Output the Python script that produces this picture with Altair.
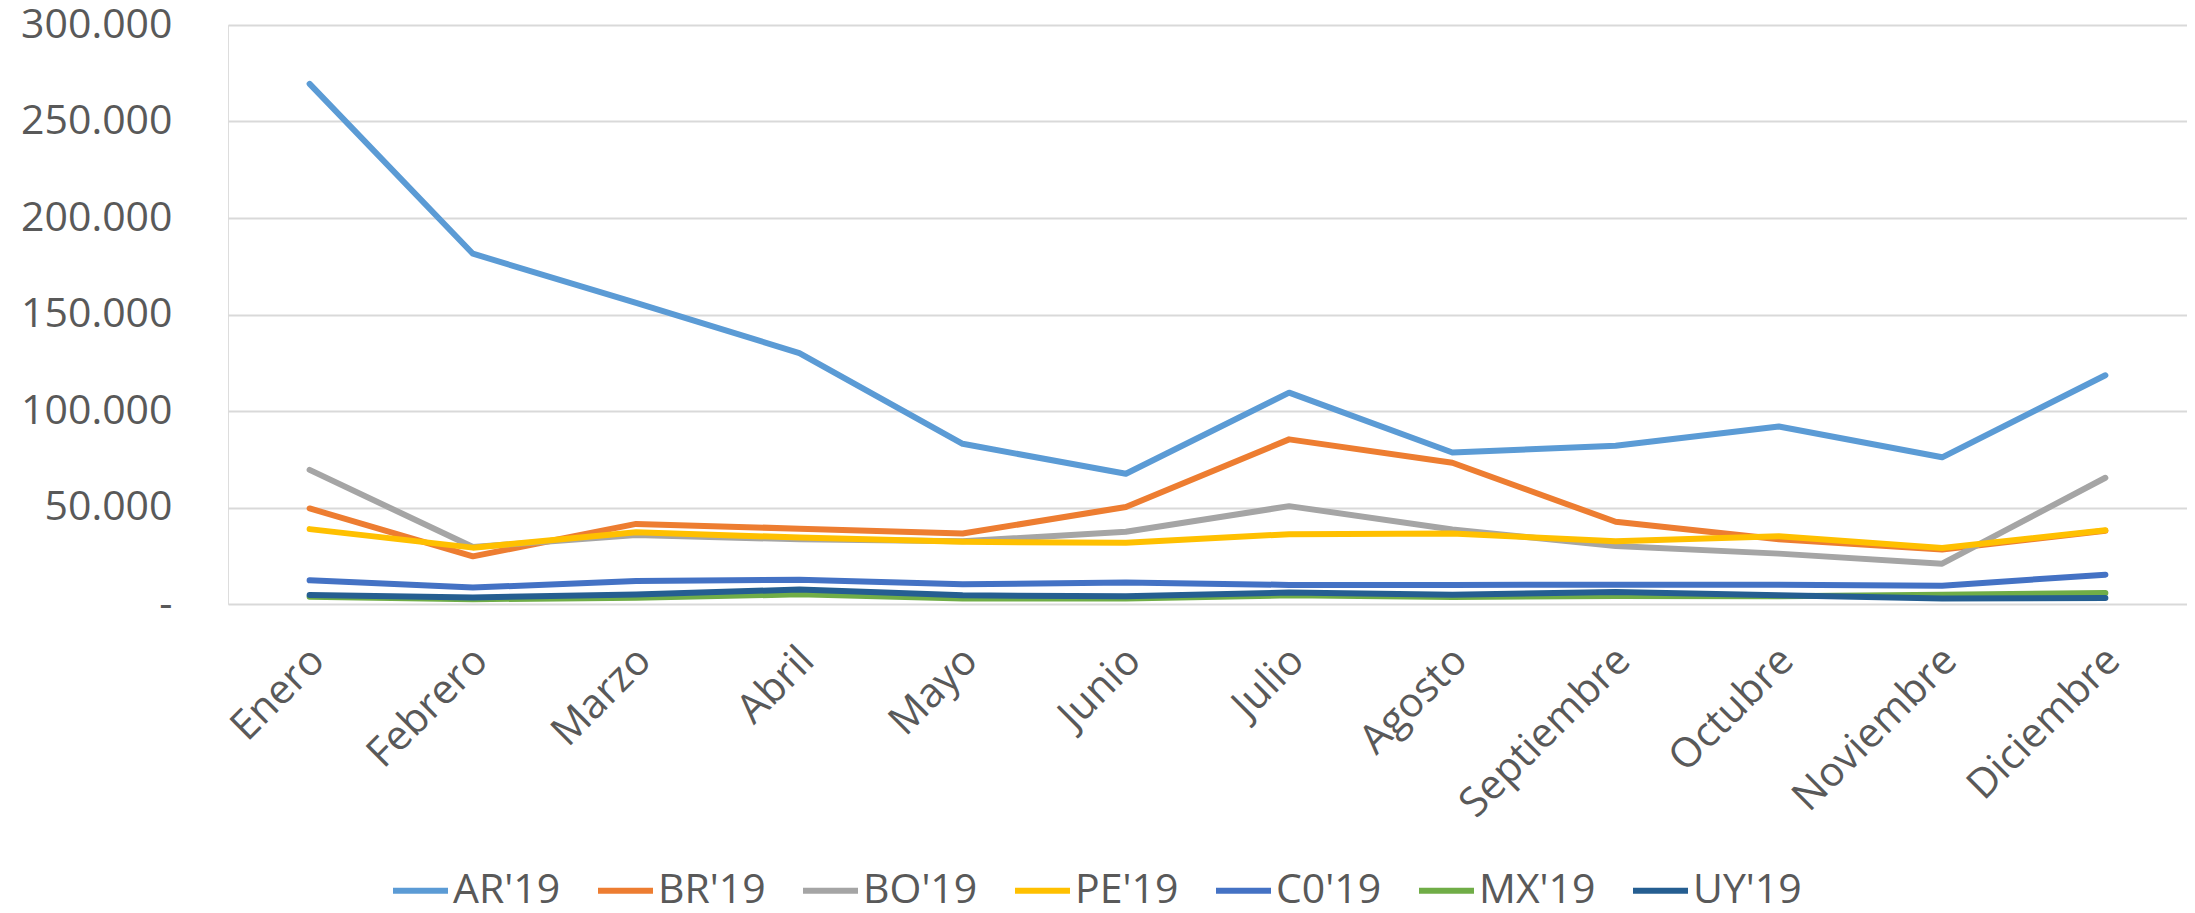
import altair as alt
import pandas as pd

months = ["Enero", "Febrero", "Marzo", "Abril", "Mayo", "Junio", "Julio",
          "Agosto", "Septiembre", "Octubre", "Noviembre", "Diciembre"]
series_names = ["AR'19", "BR'19", "BO'19", "PE'19", "C0'19", "MX'19", "UY'19"]
series_colors = ["#5B9BD5", "#ED7D31", "#A5A5A5", "#FFC000", "#4472C4", "#70AD47", "#255E91"]

AR = [269500, 181500, 156000, 130000, 83000, 67500, 109500, 78500, 82000, 92000, 76000, 118500]
BR = [49500, 24700, 41500, 39000, 36500, 50300, 85300, 73200, 42600, 33500, 28200, 37900]
BO = [69500, 29500, 35800, 33500, 32500, 37400, 50700, 38600, 30100, 26100, 20900, 65400]
PE = [38800, 29200, 37200, 34400, 32200, 31700, 36200, 36500, 32500, 35100, 29000, 38200]
CO = [12300, 8500, 11900, 12600, 10200, 11100, 9900, 9900, 10000, 10000, 9500, 15200]
MX = [3800, 2500, 3200, 5000, 2800, 2800, 4500, 3600, 4200, 4000, 4800, 5700]
UY = [4700, 3400, 4900, 7500, 4500, 4000, 5900, 4800, 6200, 4500, 2900, 3100]

values = [AR, BR, BO, PE, CO, MX, UY]
rows = []
for si, (name, vals) in enumerate(zip(series_names, values)):
    for mi, (m, v) in enumerate(zip(months, vals)):
        rows.append({"mes": m, "serie": name, "valor": v, "orden": si})
df = pd.DataFrame(rows)

FONT = "Open Sans"
TXT = "#595959"

chart = alt.Chart(df).mark_line(strokeWidth=6, strokeCap="round", strokeJoin="round").encode(
    x=alt.X("mes:N", sort=months, title=None,
            axis=alt.Axis(labelAngle=-45, labelAlign="right", labelBaseline="middle",
                          labelFont=FONT, labelFontSize=41, labelColor=TXT,
                          labelPadding=50, labelOffset=8, ticks=False, domain=False,
                          grid=False, labelOverlap=False, labelLimit=0)),
    y=alt.Y("valor:Q", title=None,
            scale=alt.Scale(domain=[0, 300000], nice=False),
            axis=alt.Axis(values=[0, 50000, 100000, 150000, 200000, 250000, 300000],
                          labelExpr="datum.value == 0 ? '-' : format(datum.value / 1000, 'd') + '.000'",
                          labelFont=FONT, labelFontSize=41, labelColor=TXT,
                          labelPadding=56, ticks=False, domain=False,
                          grid=True, gridColor="#D9D9D9", gridWidth=2)),
    color=alt.Color("serie:N", sort=series_names,
                    scale=alt.Scale(domain=series_names, range=series_colors),
                    legend=alt.Legend(title=None, orient="none", direction="horizontal",
                                      columns=7, legendX=162, legendY=835,
                                      symbolType="stroke", symbolSize=3025,
                                      symbolStrokeWidth=6, labelOffset=2,
                                      labelFont=FONT, labelFontSize=41, labelColor=TXT,
                                      columnPadding=25, padding=0, labelLimit=0)),
    order=alt.Order("orden:Q"),
).properties(
    width=1959, height=579,
    padding={"left": 220, "top": 17, "right": 0, "bottom": 301},
    autosize=alt.AutoSizeParams(type="none"),
).configure_view(stroke=None).configure(background="white")

chart.save("out.html", embed_options={"renderer": "svg", "actions": False})
